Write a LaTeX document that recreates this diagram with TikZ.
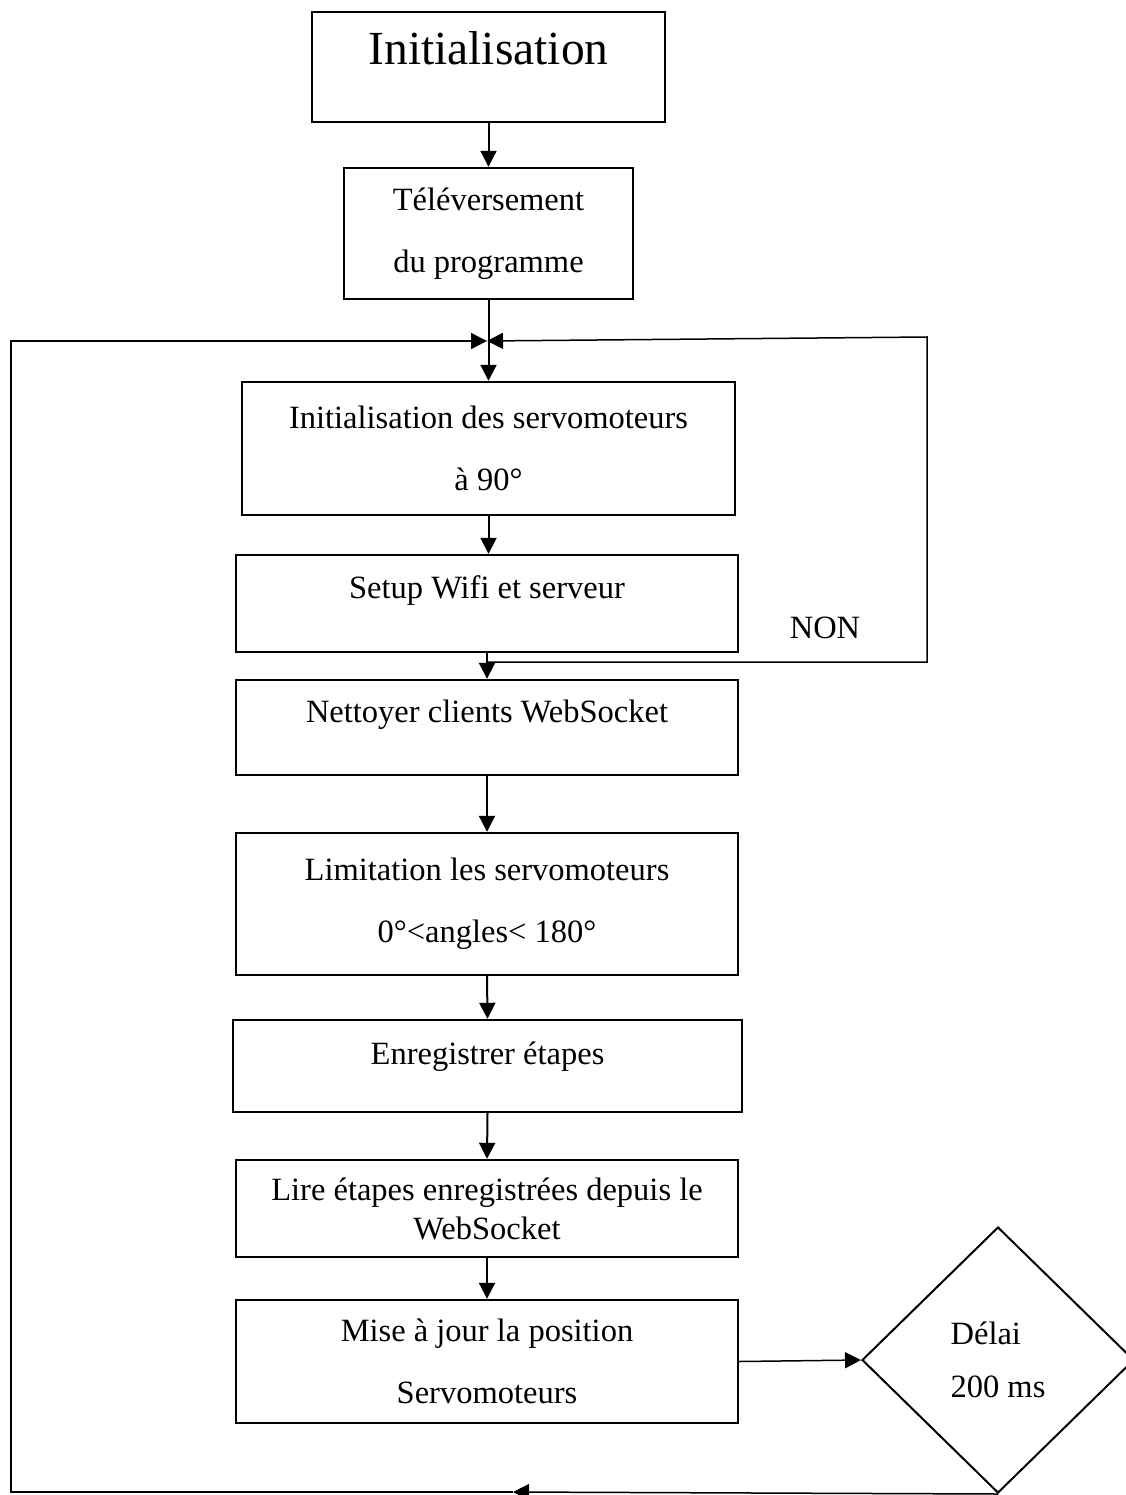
\documentclass[tikz,border=0pt]{standalone}
\usepackage{fontspec}
\setmainfont{Liberation Serif}
\usetikzlibrary{arrows.meta,shapes.geometric}

\begin{document}
\begin{tikzpicture}[x=1pt,y=-1pt,
	box/.style={draw, line width=2.4pt, inner sep=0pt, align=center, minimum width=502pt,
		font=\fontsize{32.5}{62}\selectfont},
	flow/.style={-{Triangle[length=16pt,width=16pt]}, line width=2pt},
	loopline/.style={-{Triangle[length=16pt,width=16pt]}, line width=1.5pt}]
	\useasboundingbox (0,0) rectangle (1125,1495);

	% main column
	\node[box, minimum width=353pt, minimum height=110pt, text height=53pt, text depth=57pt,
		font=\fontsize{47.5}{57}\selectfont] (init) at (488.5,67) {Initialisation};
	\node[box, minimum width=289pt, minimum height=131pt] (upload) at (488.5,233.5) {Téléversement\\du programme};
	\node[box, minimum width=493pt, minimum height=133pt] (servo) at (488.5,448.5) {Initialisation des servomoteurs\\à 90°};
	\node[box, minimum height=97pt, text height=43pt, text depth=54pt] (wifi) at (487,603.5) {Setup Wifi et serveur};
	\node[box, minimum height=95pt, text height=42pt, text depth=53pt] (clean) at (487,727.5) {Nettoyer clients WebSocket};
	\node[box, minimum height=142pt] (limit) at (487,904) {Limitation les servomoteurs\\0°<angles< 180°};
	\node[box, minimum width=509pt, minimum height=92pt, text height=44pt, text depth=48pt] (record) at (487.5,1066) {Enregistrer étapes};
	\node[box, minimum height=97pt, font=\fontsize{32.5}{39}\selectfont] (read) at (487,1208.5) {Lire étapes enregistrées depuis le\\WebSocket};
	\node[box, minimum height=123pt] (update) at (487,1361.5) {Mise à jour la position\\Servomoteurs};

	% delay block on the right
	\node[draw, diamond, line width=2pt, minimum width=272pt, minimum height=266pt, inner sep=0pt,
		align=left, font=\fontsize{32.5}{53}\selectfont] (delay) at (998,1360) {Délai\\200 ms};

	\node[font=\fontsize{32.5}{39}\selectfont] (non) at (825,628) {NON};

	% loop corners
	\coordinate (join) at (487,341);
	\coordinate (nonpt) at (487,662);
	\coordinate (rbot) at (927,662);
	\coordinate (rtop) at (927,337);
	\coordinate (back) at (513,1492);
	\coordinate (lbot) at (11,1492);
	\coordinate (ltop) at (11,341);

	\draw[flow] (init.south) -- (upload.north);
	\draw[flow] (upload.south) -- (servo.north);
	\draw[flow] (servo.south) -- (servo.south |- wifi.north);
	\draw[flow] (wifi.south) -- (clean.north);
	\draw[flow] (clean.south) -- (limit.north);
	\draw[flow] (limit.south) -- (record.north);
	\draw[flow] (record.south) -- (read.north);
	\draw[flow] (read.south) -- (update.north);
	\draw[flow, line width=1.5pt] (update.east) -- (delay.west);

	% NON branch back to the servo setup
	\draw[loopline] (nonpt) -- (rbot) -- (rtop) -- (join);
	% after the delay, back to the top
	\draw[loopline] (delay.south) -- (back);
	\draw[loopline] (back) -- (lbot) -- (ltop) -- (join);
\end{tikzpicture}
\end{document}
